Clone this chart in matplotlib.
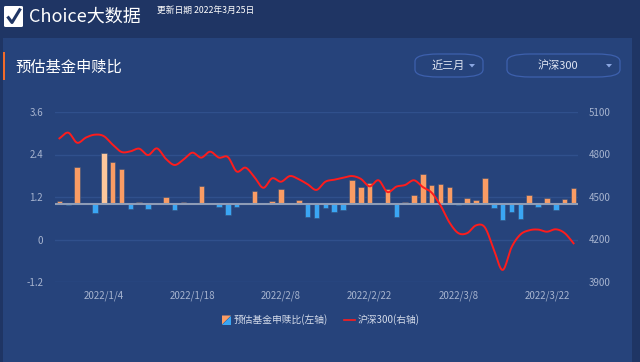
import numpy as np
import matplotlib
matplotlib.use('Agg')
import matplotlib.pyplot as plt
from matplotlib.patches import Rectangle, FancyBboxPatch, Polygon

plt.rcParams['font.family'] = ['Noto Sans CJK SC', 'DejaVu Sans']

# trading days 2021/12/27 .. 2022/3/25
dates = ['2021/12/27', '2021/12/28', '2021/12/29', '2021/12/30', '2021/12/31',
         '2022/1/4', '2022/1/5', '2022/1/6', '2022/1/7',
         '2022/1/10', '2022/1/11', '2022/1/12', '2022/1/13', '2022/1/14',
         '2022/1/17', '2022/1/18', '2022/1/19', '2022/1/20', '2022/1/21',
         '2022/1/24', '2022/1/25', '2022/1/26', '2022/1/27', '2022/1/28',
         '2022/2/7', '2022/2/8', '2022/2/9', '2022/2/10', '2022/2/11',
         '2022/2/14', '2022/2/15', '2022/2/16', '2022/2/17', '2022/2/18',
         '2022/2/21', '2022/2/22', '2022/2/23', '2022/2/24', '2022/2/25',
         '2022/2/28', '2022/3/1', '2022/3/2', '2022/3/3', '2022/3/4',
         '2022/3/7', '2022/3/8', '2022/3/9', '2022/3/10', '2022/3/11',
         '2022/3/14', '2022/3/15', '2022/3/16', '2022/3/17', '2022/3/18',
         '2022/3/21', '2022/3/22', '2022/3/23', '2022/3/24', '2022/3/25']

# 预估基金申赎比 (left axis, bars drawn from 1.0)
ratio = [1.09, 0.97, 2.04, 1.0, 0.74,
         2.44, 2.19, 1.98, 0.85,
         1.06, 0.86, 1.0, 1.21, 0.84,
         1.07, 1.0, 1.51, 1.04, 0.92,
         0.70, 0.93, 1.0, 1.37, 1.04,
         1.10, 1.43, 1.0, 1.12, 0.63,
         0.60, 0.88, 0.77, 0.83, 1.68,
         1.47, 1.59, 1.03, 1.42, 0.64,
         1.05, 1.27, 1.84, 1.55, 1.57,
         1.47, 0.97, 1.18, 1.11, 1.75,
         0.89, 0.56, 0.79, 0.57, 1.26,
         0.91, 1.18, 0.82, 1.14, 1.46]

# 沪深300 (right axis)
hs300 = [4914, 4954, 4883, 4920, 4940,
         4930, 4870, 4818, 4822,
         4841, 4796, 4843, 4770, 4726,
         4765, 4813, 4778, 4820, 4778,
         4782, 4680, 4707, 4640, 4565,
         4632, 4608, 4648, 4625, 4590,
         4550, 4608, 4622, 4635, 4648,
         4628, 4575, 4618, 4535, 4573,
         4585, 4618, 4570, 4530, 4440,
         4320, 4245, 4245, 4300, 4285,
         4130, 3985, 4145, 4235, 4265,
         4270, 4255, 4272, 4245, 4173]

tick_idx = [5, 15, 25, 35, 45, 55]
left_ticks = [-1.2, 0, 1.2, 2.4, 3.6]
right_ticks = [3900, 4200, 4500, 4800, 5100]

BG_TOP = '#1f3564'
PANEL = '#26437b'
GRID = '#30508c'
TXT = '#a7b4cf'
ORANGE = '#fa9c64'
ORANGE_HI = '#fdc79c'
BLUE = '#3aa6f4'
RED = '#ff1c1c'


def catmull(x, y, n=12):
    x = np.asarray(x, float)
    y = np.asarray(y, float)
    px = np.concatenate([[2 * x[0] - x[1]], x, [2 * x[-1] - x[-2]]])
    py = np.concatenate([[2 * y[0] - y[1]], y, [2 * y[-1] - y[-2]]])
    xs, ys = [], []
    t = np.linspace(0, 1, n, endpoint=False)
    for i in range(1, len(px) - 2):
        for arr, out in ((px, xs), (py, ys)):
            p0, p1, p2, p3 = arr[i - 1], arr[i], arr[i + 1], arr[i + 2]
            out.extend(0.5 * ((2 * p1) + (-p0 + p2) * t
                              + (2 * p0 - 5 * p1 + 4 * p2 - p3) * t ** 2
                              + (-p0 + 3 * p1 - 3 * p2 + p3) * t ** 3))
    xs.append(x[-1])
    ys.append(y[-1])
    return np.array(xs), np.array(ys)


W, H = 640, 362
fig = plt.figure(figsize=(6.4, 3.62), dpi=100)
fig.patch.set_facecolor(BG_TOP)


def fx(px):
    return px / W


def fy(py):
    return 1 - py / H


# panel
fig.add_artist(Rectangle((fx(3), 0), fx(629), fy(38), transform=fig.transFigure,
                         facecolor=PANEL, edgecolor='none', zorder=0))
fig.add_artist(Rectangle((fx(3), fy(80)), fx(2), 28 / H, transform=fig.transFigure,
                         facecolor='#f26b2a', edgecolor='none', zorder=1))

# header: checkbox + title
fig.add_artist(FancyBboxPatch((fx(4), fy(27)), fx(19), 21 / H, boxstyle='round,pad=0,rounding_size=0.003',
                              transform=fig.transFigure, facecolor='white', edgecolor='none'))
fig.add_artist(plt.Line2D([fx(7.5), fx(12), fx(20.5)], [fy(16.5), fy(22.5), fy(8.5)],
                          transform=fig.transFigure, color=BG_TOP, lw=2.2, solid_capstyle='butt'))
fig.text(fx(29), fy(17), 'Choice大数据', color='white', fontsize=13, va='center', ha='left')
fig.text(fx(157), fy(10), '更新日期 2022年3月25日', color='white', fontsize=6.3, va='center', ha='left')

fig.text(fx(15), fy(67), '预估基金申赎比', color='white', fontsize=11, va='center', ha='left')

# dropdown buttons
for x0, w, label, tx in [(415, 68, '近三月', 448), (507, 113, '沪深300', 558)]:
    fig.add_artist(FancyBboxPatch((fx(x0), fy(77)), fx(w), 23 / H,
                                  boxstyle='round,pad=0,rounding_size=0.036', mutation_aspect=H / W,
                                  transform=fig.transFigure, facecolor='none', edgecolor='#3d60ad', lw=0.9))
    fig.text(fx(tx), fy(66), label, color='#dfe5f2', fontsize=8, va='center', ha='center')
    ax0 = x0 + w - 11
    fig.add_artist(Polygon([[fx(ax0 - 3), fy(64)], [fx(ax0 + 3), fy(64)], [fx(ax0), fy(67.5)]],
                           closed=True, transform=fig.transFigure, facecolor='#8aa6e0', edgecolor='none'))

# chart
ax = fig.add_axes([fx(55), fy(282), fx(578 - 55), (282 - 112) / H])
ax.set_facecolor('none')
x = np.arange(len(dates))
r = np.array(ratio)
heights = r - 1.0
cols = [ORANGE if h >= 0 else BLUE for h in heights]
cols[5] = ORANGE_HI
ax.bar(x, heights, bottom=1.0, width=0.62, color=cols, edgecolor='#35507a', linewidth=0.4, zorder=3)
ax.axhline(1.0, color='#8e9cb6', lw=1.5, zorder=4)
ax.set_ylim(-1.2, 3.6)
ax.set_xlim(-0.5, len(dates) - 0.5)
ax.set_yticks(left_ticks)
ax.set_yticklabels(['-1.2', '0', '1.2', '2.4', '3.6'])
ax.set_xticks(tick_idx)
ax.set_xticklabels([dates[i] for i in tick_idx])
ax.grid(axis='y', color=GRID, lw=1, zorder=0)
ax.tick_params(axis='both', length=0, colors=TXT, labelsize=7)
ax.tick_params(axis='y', pad=8.5)
ax.tick_params(axis='x', pad=6)
for s in ax.spines.values():
    s.set_visible(False)

ax2 = ax.twinx()
sx, sy = catmull(x, hs300)
ax2.plot(sx, sy, color=RED, lw=1.4, zorder=5)
ax2.set_ylim(3900, 5100)
ax2.set_yticks(right_ticks)
ax2.tick_params(axis='y', length=0, colors=TXT, labelsize=7, pad=8)
for s in ax2.spines.values():
    s.set_visible(False)

# legend
lx, ly = 222, 320
fig.add_artist(Polygon([[fx(lx), fy(ly - 4.5)], [fx(lx + 9), fy(ly - 4.5)], [fx(lx), fy(ly + 4.5)]],
                       closed=True, transform=fig.transFigure, facecolor=ORANGE, edgecolor='none'))
fig.add_artist(Polygon([[fx(lx + 9), fy(ly - 4.5)], [fx(lx + 9), fy(ly + 4.5)], [fx(lx), fy(ly + 4.5)]],
                       closed=True, transform=fig.transFigure, facecolor=BLUE, edgecolor='none'))
fig.text(fx(234), fy(ly), '预估基金申赎比(左轴)', color='#d5dcea', fontsize=7, va='center', ha='left')
fig.add_artist(plt.Line2D([fx(344), fx(355)], [fy(ly), fy(ly)], transform=fig.transFigure, color=RED, lw=1.2))
fig.text(fx(358), fy(ly), '沪深300(右轴)', color='#d5dcea', fontsize=7, va='center', ha='left')

fig.savefig('out.png', dpi=100, facecolor=fig.get_facecolor())
